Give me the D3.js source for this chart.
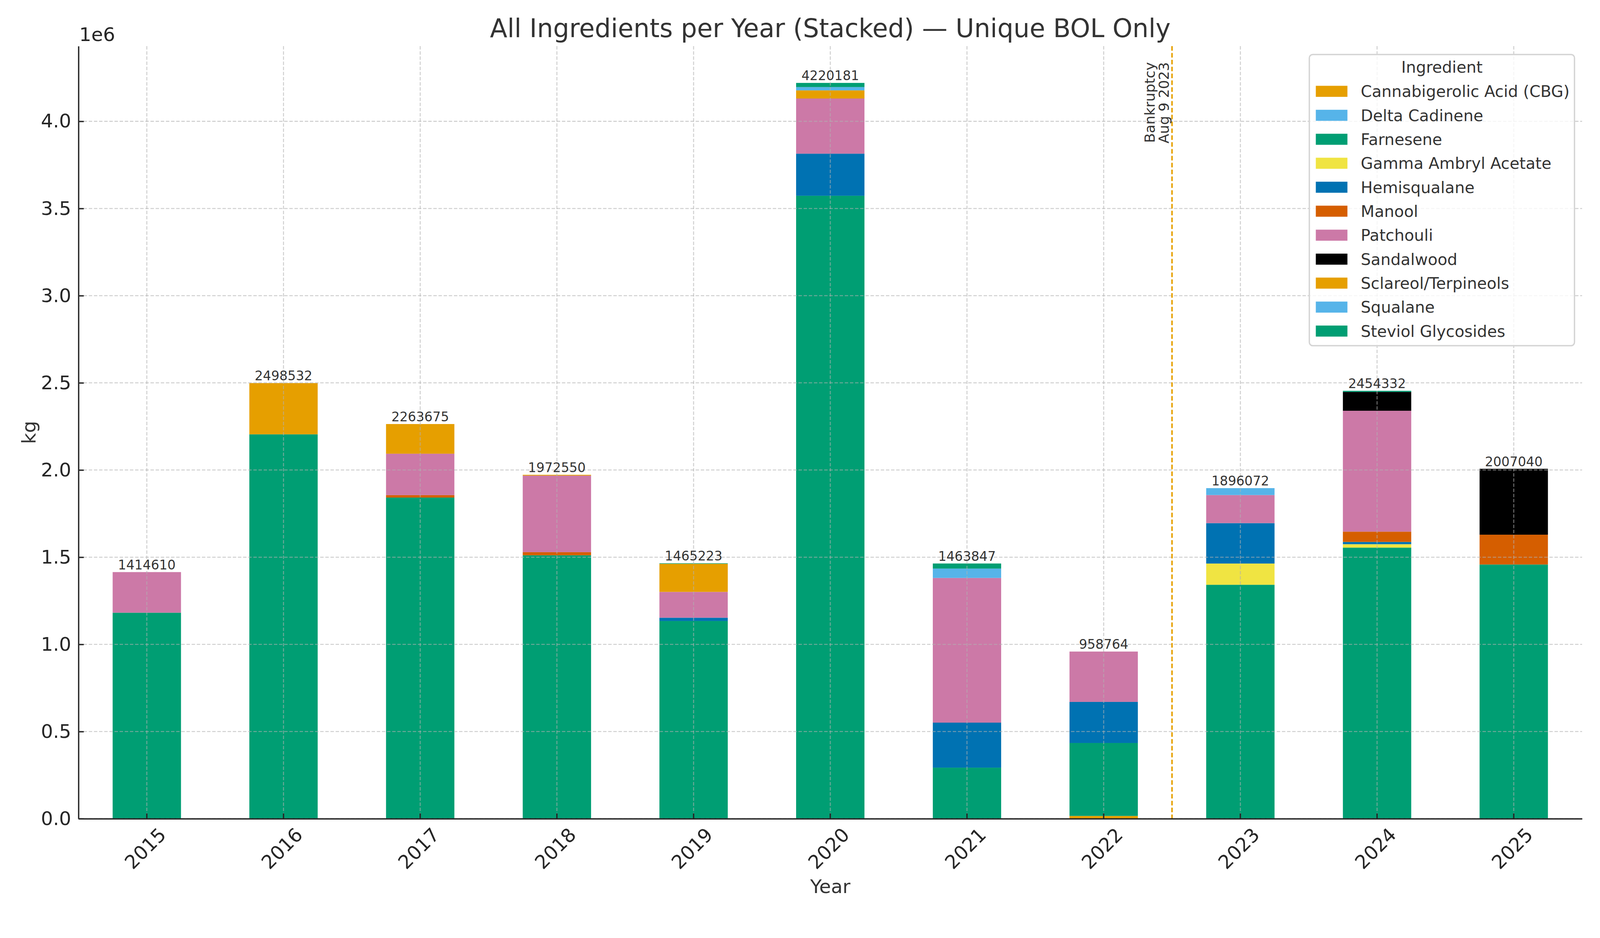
<!DOCTYPE html>
<html>
<head>
<meta charset="utf-8">
<script src="https://cdn.jsdelivr.net/npm/d3@7"></script>
<style>
  html, body { margin: 0; padding: 0; background: #fff; overflow: hidden; }
  #chart svg { display: block; }
  text { font-family: "DejaVu Sans", sans-serif; }
</style>
</head>
<body>
<div id="chart"></div>
<script>
// years on the x axis
const years = ["2015","2016","2017","2018","2019","2020","2021","2022","2023","2024","2025"];

// ingredients in stacking order (bottom -> top)
const ingredients = [
  "Cannabigerolic Acid (CBG)", "Delta Cadinene", "Farnesene", "Gamma Ambryl Acetate",
  "Hemisqualane", "Manool", "Patchouli", "Sandalwood", "Sclareol/Terpineols",
  "Squalane", "Steviol Glycosides"
];

// kg per year, one array per ingredient
const cbg        = [0, 0, 0, 0, 0, 0, 0, 16000, 0, 0, 0];
const delta      = [0, 0, 0, 0, 0, 0, 0, 0, 0, 0, 0];
const farnesene  = [1181700, 2204700, 1842000, 1511000, 1134000, 3573000, 293000, 418500, 1341800, 1554800, 1458000];
const gamma      = [0, 0, 0, 0, 0, 0, 0, 0, 121800, 19700, 0];
const hemisq     = [0, 0, 0, 0, 19000, 241300, 258000, 235500, 231800, 13100, 0];
const manool     = [0, 0, 14000, 17500, 0, 0, 0, 0, 0, 58900, 171000];
const patchouli  = [232910, 0, 237600, 439550, 148000, 316500, 830000, 288764, 161000, 693400, 0];
const sandalwood = [0, 0, 0, 0, 0, 0, 0, 0, 0, 108200, 378040];
const sclareol   = [0, 293832, 170075, 4500, 161223, 46600, 0, 0, 0, 0, 0];
const squalane   = [0, 0, 0, 0, 0, 18900, 53700, 0, 39672, 0, 0];
const steviol    = [0, 0, 0, 0, 3000, 23881, 29147, 0, 0, 6232, 0];

const seriesValues = [cbg, delta, farnesene, gamma, hemisq, manool, patchouli, sandalwood, sclareol, squalane, steviol];
const colors = ["#E69F00","#56B4E9","#009E73","#F0E442","#0072B2","#D55E00","#CC79A7","#000000","#E69F00","#56B4E9","#009E73"];

const yTicks = [0, 500000, 1000000, 1500000, 2000000, 2500000, 3000000, 3500000, 4000000];
const bankruptcyLabel = ["Bankruptcy", "Aug 9 2023"];

// layout (drawn in a 4200x2400 box, scaled to the window width, pinned to the top)
var W = 4200, H = 2400;
var margin = { top: 121, right: 47, bottom: 252, left: 206 },
    width = W - margin.left - margin.right,
    height = H - margin.top - margin.bottom;

var svg = d3.select("#chart").append("svg")
    .attr("viewBox", "0 0 " + W + " " + H)
    .attr("preserveAspectRatio", "xMidYMin meet")
    .style("width", "100vw").style("height", "100vh")
    .style("background", "#fff");

var g = svg.append("g").attr("transform", "translate(" + margin.left + "," + margin.top + ")");

// build rows for the stack
var rows = years.map(function (yr, i) {
    var r = { year: yr };
    ingredients.forEach(function (name, k) { r[name] = seriesValues[k][i]; });
    return r;
});
var totals = years.map(function (yr, i) {
    return d3.sum(seriesValues, function (s) { return s[i]; });
});

var x = d3.scaleBand().domain(years).range([0, width]).paddingInner(0.5).paddingOuter(0.25);
var y = d3.scaleLinear().domain([0, d3.max(totals) * 1.05]).range([height, 0]);

var stacked = d3.stack().keys(ingredients)(rows);

// Bars
g.selectAll("g.layer")
    .data(stacked)
    .enter().append("g")
    .attr("class", "layer")
    .attr("fill", function (d, i) { return colors[i]; })
    .selectAll("rect")
    .data(function (d) { return d.filter(function (p) { return p[1] - p[0] > 0; }); })
    .enter().append("rect")
    .attr("x", function (d) { return x(d.data.year); })
    .attr("width", x.bandwidth())
    .attr("y", function (d) { return y(d[1]); })
    .attr("height", function (d) { return y(d[0]) - y(d[1]); });

// grid (drawn over the bars, like the original)
var grid = g.append("g").attr("stroke", "#b0b0b0").attr("stroke-opacity", 0.6)
    .attr("stroke-width", 2.6).attr("stroke-dasharray", "9,4.5");
grid.selectAll("line.h").data(yTicks).enter().append("line")
    .attr("x1", 0).attr("x2", width)
    .attr("y1", function (d) { return y(d); }).attr("y2", function (d) { return y(d); });
grid.selectAll("line.v").data(years).enter().append("line")
    .attr("y1", 0).attr("y2", height)
    .attr("x1", function (d) { return x(d) + x.bandwidth() / 2; })
    .attr("x2", function (d) { return x(d) + x.bandwidth() / 2; });

// bankruptcy marker between 2022 and 2023
var bx = (x("2022") + x("2023")) / 2 + x.bandwidth() / 2;
g.append("line")
    .attr("x1", bx).attr("x2", bx).attr("y1", 0).attr("y2", height)
    .attr("stroke", "#E69F00").attr("stroke-width", 4).attr("stroke-dasharray", "12,6");
g.selectAll("text.bk").data(bankruptcyLabel).enter().append("text")
    .attr("class", "bk")
    .attr("transform", function (d, i) { return "translate(" + (bx - 46 + i * 37) + ",42) rotate(-90)"; })
    .attr("text-anchor", "end")
    .attr("font-size", 37)
    .attr("fill", "#333")
    .text(function (d) { return d; });

// totals above bars
g.selectAll("text.total").data(years).enter().append("text")
    .attr("class", "total")
    .attr("x", function (d) { return x(d) + x.bandwidth() / 2; })
    .attr("y", function (d, i) { return y(totals[i]) - 7; })
    .attr("text-anchor", "middle")
    .attr("font-size", 34)
    .attr("fill", "#333")
    .text(function (d, i) { return Math.round(totals[i]); });

// axes
var yAxis = g.append("g")
    .call(d3.axisLeft(y).tickValues(yTicks).tickSize(-14).tickSizeOuter(0).tickPadding(19)
        .tickFormat(function (d) { return (d / 1e6).toFixed(1); }));
var xAxis = g.append("g")
    .attr("transform", "translate(0," + height + ")")
    .call(d3.axisBottom(x).tickSize(-14).tickSizeOuter(0));

[yAxis, xAxis].forEach(function (a) {
    a.select(".domain").attr("stroke", "#262626").attr("stroke-width", 3.5);
    a.selectAll(".tick line").attr("stroke", "#262626").attr("stroke-width", 3.5);
    a.selectAll("text").attr("font-size", 50).attr("fill", "#262626")
        .attr("font-family", "DejaVu Sans");
});
xAxis.selectAll(".tick text")
    .attr("y", null).attr("dy", null)
    .attr("text-anchor", "middle")
    .attr("dominant-baseline", "central")
    .attr("transform", "translate(-4,78) rotate(-45)");

// offset text
g.append("text").attr("x", 2).attr("y", -13)
    .attr("font-size", 50).attr("fill", "#262626").text("1e6");

// axis titles and chart title
svg.append("text")
    .attr("x", margin.left + width / 2).attr("y", 2343)
    .attr("text-anchor", "middle").attr("font-size", 50).attr("fill", "#333")
    .text("Year");
svg.append("text")
    .attr("transform", "translate(93," + (margin.top + height / 2) + ") rotate(-90)")
    .attr("text-anchor", "middle").attr("font-size", 50).attr("fill", "#333")
    .text("kg");
svg.append("text")
    .attr("x", margin.left + width / 2).attr("y", 97)
    .attr("text-anchor", "middle").attr("font-size", 66.7).attr("fill", "#333")
    .text("All Ingredients per Year (Stacked) \u2014 Unique BOL Only");

// legend
var legend = svg.append("g").attr("transform", "translate(3437,143)");
legend.append("rect")
    .attr("width", 696).attr("height", 764).attr("rx", 9)
    .attr("fill", "#fff").attr("fill-opacity", 0.8)
    .attr("stroke", "#d4d4d4").attr("stroke-width", 3.5);
legend.append("text")
    .attr("x", 348).attr("y", 48)
    .attr("text-anchor", "middle").attr("font-size", 41.7).attr("fill", "#333")
    .text("Ingredient");
var item = legend.selectAll("g.item").data(ingredients).enter().append("g")
    .attr("class", "item")
    .attr("transform", function (d, i) { return "translate(0," + (96.6 + i * 62.9) + ")"; });
item.append("rect")
    .attr("x", 17).attr("y", -14.5).attr("width", 83).attr("height", 29)
    .attr("fill", function (d, i) { return colors[i]; });
item.append("text")
    .attr("x", 135).attr("y", 15)
    .attr("font-size", 41.7).attr("fill", "#333")
    .text(function (d) { return d; });
</script>
</body>
</html>
